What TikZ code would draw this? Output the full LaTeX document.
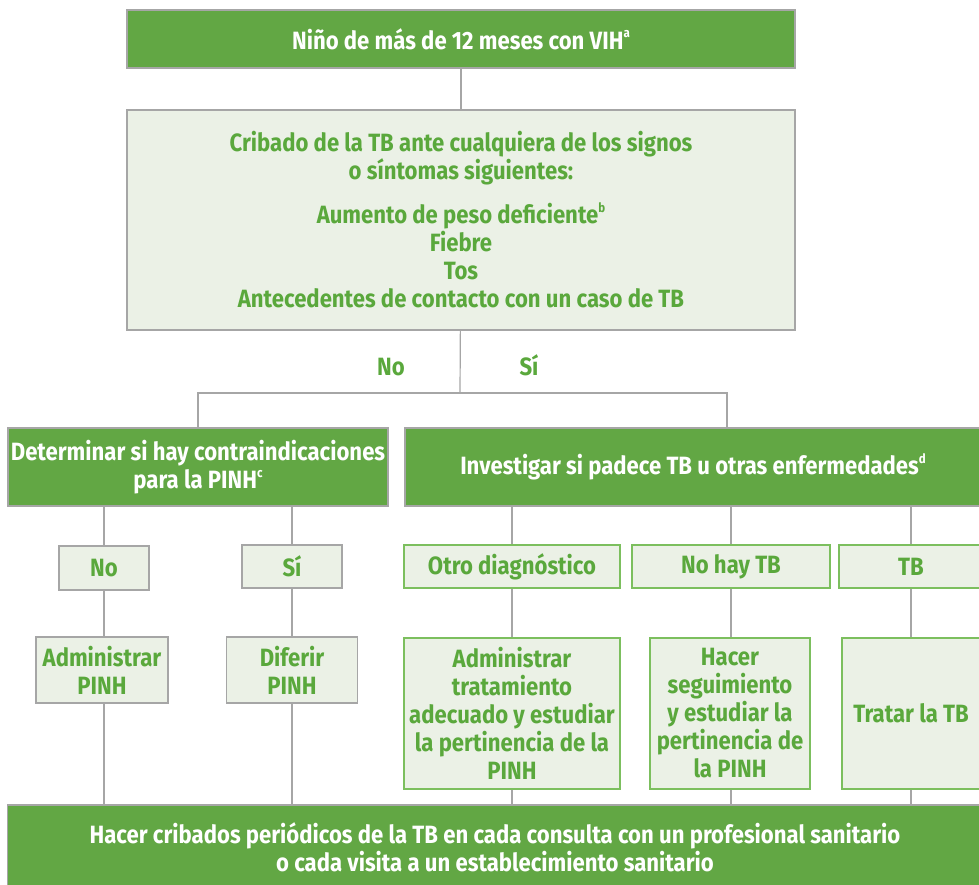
\documentclass[tikz,border=0pt]{standalone}
\usepackage{fontspec}
\setmainfont{Fira Sans}[FakeStretch=0.885]
\usetikzlibrary{positioning}
\definecolor{tbgreen}{RGB}{98,167,68}
\definecolor{tblight}{RGB}{235,241,230}
\definecolor{tbtext}{RGB}{90,168,60}
\definecolor{tbgrey}{RGB}{166,166,166}
\definecolor{tbedge}{RGB}{124,191,94}
\newcommand\fnmark[1]{\raisebox{0.85ex}{\fontsize{13}{13}\selectfont #1}}

\begin{document}
\begin{tikzpicture}[x=1pt, y=-1pt,
  head/.style={draw=tbgrey, line width=1.2pt, fill=tbgreen, text=white, inner sep=0pt, align=center, font=\fontsize{25}{28}\selectfont\bfseries},
  soft/.style={draw=tbgrey, line width=1.2pt, fill=tblight, text=tbtext, inner sep=0pt, align=center, font=\fontsize{25}{28}\selectfont\bfseries},
  softg/.style={soft, draw=tbedge},
  lbl/.style={text=tbtext, font=\fontsize{25}{28}\selectfont\bfseries},
  link/.style={draw=tbgrey, line width=1.2pt}
]
\useasboundingbox (0,0) rectangle (979,885);
\node[head, minimum width=668, minimum height=58] (child) at (461,39) {Niño de más de 12 meses con VIH\fnmark{a}};
\node[soft, minimum width=668, minimum height=220] (screen) at (461,220)
  {Cribado de la TB ante cualquiera de los signos\\o síntomas siguientes:\\[16pt]
   Aumento de peso deficiente\fnmark{b}\\Fiebre\\Tos\\Antecedentes de contacto con un caso de TB};
\node[head, minimum width=380, minimum height=78] (contra) at (198,467) {Determinar si hay contraindicaciones\\para la PINH\fnmark{c}};
\node[head, minimum width=576, minimum height=78] (probe) at (693,467) {Investigar si padece TB u otras enfermedades\fnmark{d}};
\coordinate (split) at (460,393);
\coordinate (probetop) at (727,428);
\node[lbl] (nolbl) at (391,367) {No};
\node[lbl] (silbl) at (529,365) {Sí};
% left branch
\node[soft, minimum width=90, minimum height=44] (nobox) at (104,568) {No};
\node[soft, minimum width=100, minimum height=43] (sibox) at (292,566.5) {Sí};
\node[soft, minimum width=132, minimum height=66] (givepinh) at (102,670) {Administrar\\PINH};
\node[soft, minimum width=131, minimum height=66] (delaypinh) at (292,670) {Diferir\\PINH};
% right branch
\node[softg, minimum width=216, minimum height=43] (otherdx) at (512,566.5) {Otro diagnóstico};
\node[softg, minimum width=198, minimum height=43] (notb) at (731,566.5) {No hay TB};
\node[softg, minimum width=144, minimum height=43] (tb) at (911,566.5) {TB};
\node[softg, minimum width=216, minimum height=151] (treatother) at (512,713.5)
  {Administrar\\tratamiento\\adecuado y estudiar\\la pertinencia de la\\PINH};
\node[softg, minimum width=160, minimum height=151] (follow) at (730,713.5)
  {Hacer\\seguimiento\\y estudiar la\\pertinencia de\\la PINH};
\node[softg, minimum width=138, minimum height=151] (treattb) at (911,713.5) {Tratar la TB};
\node[head, minimum width=975, minimum height=84] (periodic) at (495,847)
  {Hacer cribados periódicos de la TB en cada consulta con un profesional sanitario\\o cada visita a un establecimiento sanitario};

\draw[link] (child) -- (screen);
\draw[link] (screen) -- (split);
\draw[link] (contra.north) |- (split) -| (probetop);
\draw[link] (contra.south -| nobox) -- (nobox);
\draw[link] (contra.south -| sibox) -- (sibox);
\draw[link] (nobox) -- (nobox |- givepinh.north);
\draw[link] (sibox) -- (delaypinh);
\draw[link] (givepinh.south -| nobox) -- (nobox |- periodic.north);
\draw[link] (delaypinh) -- (delaypinh |- periodic.north);
\draw[link] (probe.south -| otherdx) -- (otherdx);
\draw[link] (probe.south -| notb) -- (notb);
\draw[link] (probe.south -| tb) -- (tb);
\draw[link] (otherdx) -- (treatother);
\draw[link] (notb) -- (notb |- follow.north);
\draw[link] (tb) -- (treattb);
\draw[link] (treatother) -- (treatother |- periodic.north);
\draw[link] (follow.south -| notb) -- (notb |- periodic.north);
\draw[link] (treattb) -- (treattb |- periodic.north);
\end{tikzpicture}
\end{document}
